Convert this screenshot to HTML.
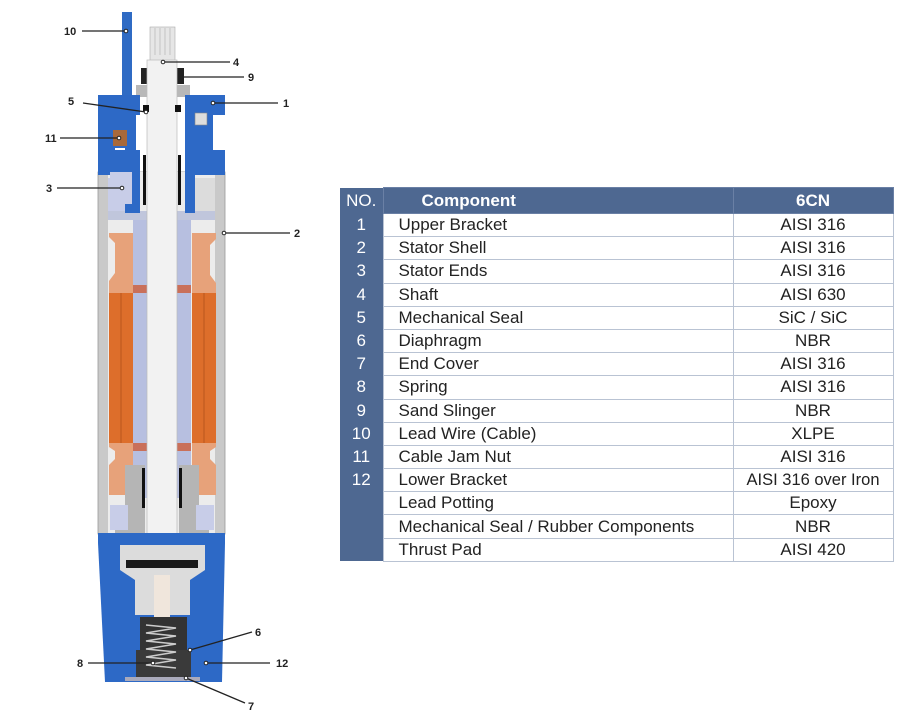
<!DOCTYPE html>
<html><head><meta charset="utf-8"><style>
html,body{margin:0;padding:0;background:#fff;width:900px;height:724px;overflow:hidden}
svg{position:absolute;left:0;top:0}
table{position:absolute;left:340px;top:187px;width:553px;table-layout:fixed;border-collapse:collapse;font-family:"Liberation Sans",sans-serif;font-size:17px;color:#222}
td{height:22.2px;padding:0;border:1px solid #b9c3d3;line-height:22px;white-space:nowrap;overflow:hidden}
td.n{background:#4e6891;color:#fff;text-align:center;border:none}
td.c{padding-left:15px}
td.m{text-align:center}
tr.h td{background:#4e6891;color:#fff;font-weight:bold;height:25px;border-color:#6a80a5}
</style></head><body>
<svg width="900" height="724" viewBox="0 0 900 724">
<rect x="122" y="12" width="10" height="88" fill="#2f6bc4"/>
<rect x="150" y="27" width="25" height="35" fill="#e6e6e6" stroke="#aaa" stroke-width="0.6"/>
<g stroke="#bbb" stroke-width="0.8"><line x1="155" y1="28" x2="155" y2="55"/><line x1="160" y1="28" x2="160" y2="55"/><line x1="165" y1="28" x2="165" y2="55"/><line x1="170" y1="28" x2="170" y2="55"/></g>
<rect x="141" y="68" width="12" height="16" fill="#222"/><rect x="172" y="68" width="12" height="16" fill="#222"/>
<rect x="136" y="85" width="54" height="12" fill="#b8b8b8"/>
<rect x="98" y="172" width="127" height="362" fill="#c9c9c9" stroke="#999" stroke-width="0.8"/>
<rect x="108" y="172" width="107" height="362" fill="#ececec"/>
<rect x="108" y="178" width="26" height="35" fill="#c8cde8"/>
<rect x="193" y="178" width="22" height="35" fill="#dcdcdc"/>
<path d="M109 233 h24 v60 h-24 v-12 l6 -8 v-30 l-6 -6z" fill="#e7a27a"/>
<path d="M192 233 h24 v6 l-6 6 v30 l6 8 v10 h-24z" fill="#e7a27a"/>
<rect x="109" y="293" width="24" height="150" fill="#dd6e2b"/>
<rect x="192" y="293" width="24" height="150" fill="#dd6e2b"/>
<line x1="121" y1="293" x2="121" y2="443" stroke="#b9561e"/><line x1="204" y1="293" x2="204" y2="443" stroke="#b9561e"/>
<path d="M109 443 h24 v52 h-24 v-30 l6 -6 v-8 l-6 -4z" fill="#e7a27a"/>
<path d="M192 443 h24 v4 l-6 4 v8 l6 6 v30 h-24z" fill="#e7a27a"/>
<rect x="133" y="213" width="14" height="285" fill="#b7bfe0"/>
<rect x="177" y="213" width="14" height="285" fill="#b7bfe0"/>
<rect x="133" y="285" width="14" height="8" fill="#c9705a"/><rect x="177" y="285" width="14" height="8" fill="#c9705a"/>
<rect x="133" y="443" width="14" height="8" fill="#c9705a"/><rect x="177" y="443" width="14" height="8" fill="#c9705a"/>
<rect x="108" y="211" width="107" height="9" fill="#c0c6dc"/>
<path d="M98 95 h42 v20 h-4 v58 h-11 v-25 h-10 v25 h-17z" fill="#2d69c6"/>
<path d="M100 95 h40 v20 h-10 v25 h-25 v-20 h-5z" fill="#2d69c6"/>
<path d="M98 150 h42 v63 h-15 v-38 h-27z" fill="#2d69c6"/>
<path d="M185 95 h40 v20 h-12 v35 h12 v25 h-30 v38 h-10 z" fill="#2d69c6"/>
<rect x="195" y="113" width="12" height="12" fill="#ddd" stroke="#888" stroke-width="0.6"/>
<rect x="113" y="130" width="14" height="16" fill="#a8693a"/>
<rect x="110" y="172" width="22" height="32" fill="#c8cde8"/>
<rect x="147" y="60" width="30" height="520" fill="#f2f2f2" stroke="#bbb" stroke-width="0.7"/>
<rect x="143" y="155" width="3" height="50" fill="#111"/><rect x="178" y="155" width="3" height="50" fill="#111"/>
<rect x="143" y="105" width="6" height="7" fill="#111"/><rect x="175" y="105" width="6" height="7" fill="#111"/>
<path d="M125 465 h20 v90 h-30 v-25 h10z" fill="#b5b5b5"/>
<path d="M179 465 h20 v65 h10 v25 h-30z" fill="#b5b5b5"/>
<rect x="142" y="468" width="3" height="40" fill="#111"/><rect x="179" y="468" width="3" height="40" fill="#111"/>
<rect x="110" y="505" width="18" height="25" fill="#c8cde8"/><rect x="196" y="505" width="18" height="25" fill="#c8cde8"/>
<path d="M98 533 h127 v10 l-3 139 h-117 l-7 -139z" fill="#2d69c6"/>
<path d="M120 545 h85 v25 l-15 10 v35 h-55 v-35 l-15 -10z" fill="#dcdcdc"/>
<rect x="126" y="560" width="72" height="8" fill="#1a1a1a"/>
<rect x="154" y="575" width="16" height="42" fill="#f0e6dc"/>
<rect x="140" y="617" width="47" height="61" fill="#333"/>
<rect x="136" y="650" width="55" height="28" fill="#3a3a3a"/>
<path d="M146 625 l30 3 l-30 5 l30 3 l-30 5 l30 3 l-30 5 l30 3 l-30 5 l30 3 l-30 5 l30 3" fill="none" stroke="#ccc" stroke-width="1.5"/>
<rect x="125" y="677" width="75" height="4" fill="#aab"/>
<g stroke="#222" stroke-width="1.3" fill="none">
<line x1="82" y1="31" x2="126" y2="31"/>
<line x1="163" y1="62" x2="230" y2="62"/>
<line x1="183" y1="77" x2="244" y2="77"/>
<line x1="83" y1="103" x2="146" y2="112"/>
<line x1="213" y1="103" x2="278" y2="103"/>
<line x1="60" y1="138" x2="119" y2="138"/>
<line x1="57" y1="188" x2="122" y2="188"/>
<line x1="224" y1="233" x2="290" y2="233"/>
<line x1="190" y1="650" x2="252" y2="632"/>
<line x1="88" y1="663" x2="153" y2="663"/>
<line x1="206" y1="663" x2="270" y2="663"/>
<line x1="186" y1="678" x2="245" y2="703"/>
</g>
<g fill="#fff" stroke="#222" stroke-width="1">
<circle cx="126" cy="31" r="1.8"/><circle cx="163" cy="62" r="1.8"/><circle cx="146" cy="112" r="1.8"/><circle cx="213" cy="103" r="1.8"/><circle cx="119" cy="138" r="1.8"/><circle cx="122" cy="188" r="1.8"/><circle cx="224" cy="233" r="1.8"/><circle cx="190" cy="650" r="1.8"/><circle cx="153" cy="663" r="1.8"/><circle cx="206" cy="663" r="1.8"/><circle cx="186" cy="678" r="1.8"/>
</g>
<g font-family="Liberation Sans,sans-serif" font-size="11" font-weight="bold" fill="#222">
<text x="64" y="35">10</text><text x="233" y="66">4</text><text x="248" y="81">9</text><text x="68" y="105">5</text><text x="283" y="107">1</text><text x="45" y="142">11</text><text x="46" y="192">3</text><text x="294" y="237">2</text><text x="255" y="636">6</text><text x="77" y="667">8</text><text x="276" y="667">12</text><text x="248" y="710">7</text>
</g>
</svg>
<table>
<colgroup><col style="width:43px"><col style="width:350px"><col style="width:160px"></colgroup>
<tr class="h"><td class="n" style="font-weight:normal">NO.</td><td class="c" style="padding-left:38px">Component</td><td class="m">6CN</td></tr>
<tr><td class="n">1</td><td class="c">Upper Bracket</td><td class="m">AISI 316</td></tr>
<tr><td class="n">2</td><td class="c">Stator Shell</td><td class="m">AISI 316</td></tr>
<tr><td class="n">3</td><td class="c">Stator Ends</td><td class="m">AISI 316</td></tr>
<tr><td class="n">4</td><td class="c">Shaft</td><td class="m">AISI 630</td></tr>
<tr><td class="n">5</td><td class="c">Mechanical Seal</td><td class="m">SiC / SiC</td></tr>
<tr><td class="n">6</td><td class="c">Diaphragm</td><td class="m">NBR</td></tr>
<tr><td class="n">7</td><td class="c">End Cover</td><td class="m">AISI 316</td></tr>
<tr><td class="n">8</td><td class="c">Spring</td><td class="m">AISI 316</td></tr>
<tr><td class="n">9</td><td class="c">Sand Slinger</td><td class="m">NBR</td></tr>
<tr><td class="n">10</td><td class="c">Lead Wire (Cable)</td><td class="m">XLPE</td></tr>
<tr><td class="n">11</td><td class="c">Cable Jam Nut</td><td class="m">AISI 316</td></tr>
<tr><td class="n">12</td><td class="c">Lower Bracket</td><td class="m" style="font-size:16.5px">AISI 316 over Iron</td></tr>
<tr><td class="n"></td><td class="c">Lead Potting</td><td class="m">Epoxy</td></tr>
<tr><td class="n"></td><td class="c">Mechanical Seal / Rubber Components</td><td class="m">NBR</td></tr>
<tr><td class="n"></td><td class="c">Thrust Pad</td><td class="m">AISI 420</td></tr>
</table>
</body></html>
